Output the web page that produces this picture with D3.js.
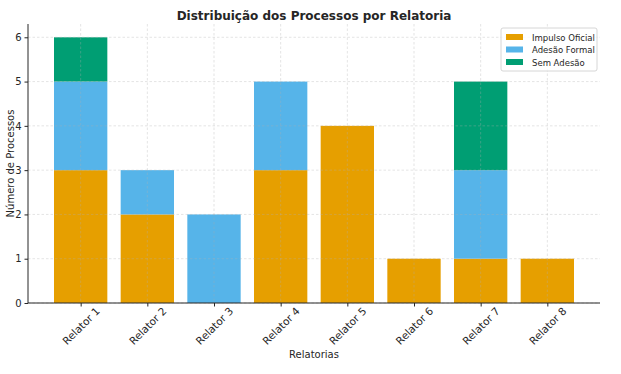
<!DOCTYPE html>
<html>
<head>
<meta charset="utf-8">
<script src="https://cdn.jsdelivr.net/npm/d3@7"></script>
<style>
  body { margin: 0; background: #fff; }
  text { font-family: "DejaVu Sans", sans-serif; fill: #262626; }
</style>
</head>
<body>
<div id="root"></div>
<script>
const relatores = ['Relator 1', 'Relator 2', 'Relator 3', 'Relator 4', 'Relator 5', 'Relator 6', 'Relator 7', 'Relator 8'];
const impulsoOficial = [3, 2, 0, 3, 4, 1, 1, 1];
const adesaoFormal = [2, 1, 2, 2, 0, 0, 2, 0];
const semAdesao = [1, 0, 0, 0, 0, 0, 2, 0];
const seriesNames = ['Impulso Oficial', 'Adesão Formal', 'Sem Adesão'];
const seriesColors = ['#E69F00', '#56B4E9', '#009E73'];
const yTicks = [0, 1, 2, 3, 4, 5, 6];

const width = 621;
const height = 374;
const padding = { top: 24, right: 21, bottom: 71, left: 28 };
const plotW = width - padding.left - padding.right;
const plotH = height - padding.top - padding.bottom;

// table for the stack layout
const rows = relatores.map((r, i) => ({
  name: r,
  'Impulso Oficial': impulsoOficial[i],
  'Adesão Formal': adesaoFormal[i],
  'Sem Adesão': semAdesao[i],
}));
const stacked = d3.stack().keys(seriesNames)(rows);

// numeric x scale so bars sit like matplotlib's categorical axis
const x = d3.scaleLinear().domain([-0.79, relatores.length - 1 + 0.79]).range([0, plotW]);
const y = d3.scaleLinear().domain([0, 6.3]).range([plotH, 0]);
const color = d3.scaleOrdinal().domain(seriesNames).range(seriesColors);
const barW = x(0.8) - x(0);

const svg = d3.select('#root').append('svg').attr('width', width).attr('height', height);
const g = svg.append('g').attr('transform', `translate(${padding.left},${padding.top})`);

// bars
g.append('g').selectAll('g')
  .data(stacked)
  .join('g')
  .attr('fill', d => color(d.key))
  .selectAll('rect')
  .data(d => d)
  .join('rect')
  .attr('x', (d, i) => x(i) - barW / 2)
  .attr('width', barW)
  .attr('y', d => y(d[1]))
  .attr('height', d => y(d[0]) - y(d[1]));

// grid on top of bars, dashed and faint
const grid = g.append('g').attr('stroke', '#b0b0b0').attr('stroke-opacity', 0.45)
  .attr('stroke-dasharray', '2.5,2').attr('stroke-width', 0.75);
grid.selectAll('.gy').data(yTicks).join('line')
  .attr('x1', 0).attr('x2', plotW).attr('y1', d => y(d)).attr('y2', d => y(d));
grid.selectAll('.gx').data(relatores).join('line')
  .attr('y1', 0).attr('y2', plotH).attr('x1', (d, i) => x(i)).attr('x2', (d, i) => x(i));

// y axis
const yAxis = g.append('g')
  .call(d3.axisLeft(y).tickValues(yTicks).tickFormat(d3.format('d')).tickSize(3.5).tickPadding(3));
yAxis.select('.domain').attr('stroke', '#262626').attr('d', `M0,${plotH}V0`);
yAxis.selectAll('.tick line').attr('stroke', '#262626');
yAxis.selectAll('text').style('font-size', '10px').attr('fill', '#262626');

// x axis
const xAxis = g.append('g').attr('transform', `translate(0,${plotH})`)
  .call(d3.axisBottom(x).tickValues(d3.range(relatores.length)).tickFormat(i => relatores[i]).tickSize(3.5));
xAxis.select('.domain').attr('stroke', '#262626').attr('d', `M0,0H${plotW}`);
xAxis.selectAll('.tick line').attr('stroke', '#262626');
xAxis.selectAll('text')
  .style('font-size', '10.5px')
  .attr('fill', '#262626')
  .attr('text-anchor', 'middle')
  .attr('dy', '0.35em')
  .attr('y', 0)
  .attr('transform', 'translate(0,23) rotate(-45)');

// titles
svg.append('text')
  .attr('x', padding.left + plotW / 2).attr('y', 20)
  .attr('text-anchor', 'middle')
  .style('font-size', '12px').style('font-weight', 'bold')
  .text('Distribuição dos Processos por Relatoria');
svg.append('text')
  .attr('x', padding.left + plotW / 2).attr('y', 358)
  .attr('text-anchor', 'middle')
  .style('font-size', '10px')
  .text('Relatorias');
svg.append('text')
  .attr('transform', `translate(14,${padding.top + plotH / 2}) rotate(-90)`)
  .attr('text-anchor', 'middle')
  .style('font-size', '10px')
  .text('Número de Processos');

// legend
const legend = svg.append('g').attr('transform', `translate(${padding.left + plotW - 99},28)`);
legend.append('rect')
  .attr('width', 96).attr('height', 43).attr('rx', 2)
  .attr('fill', '#fff').attr('fill-opacity', 0.8)
  .attr('stroke', '#cccccc').attr('stroke-width', 0.8);
const items = legend.selectAll('.legend-item').data(seriesNames).join('g')
  .attr('class', 'legend-item')
  .attr('transform', (d, i) => `translate(5,${6 + i * 12.5})`);
items.append('rect').attr('width', 17).attr('height', 6).attr('fill', d => color(d));
items.append('text').attr('x', 26).attr('y', 6.5)
  .style('font-size', '8.5px').text(d => d);
</script>
</body>
</html>
